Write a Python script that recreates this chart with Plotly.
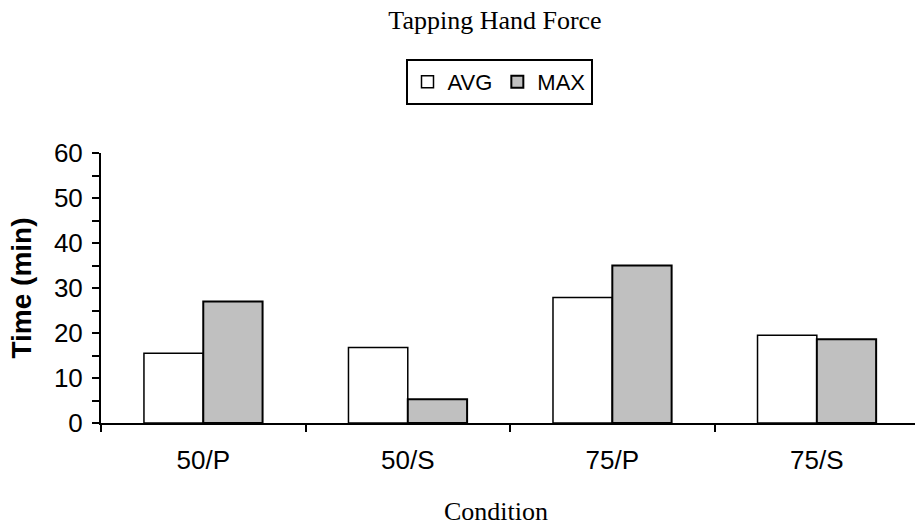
import plotly.graph_objects as go

categories = ["50/P", "50/S", "75/P", "75/S"]
avg_values = [15.5, 16.8, 27.9, 19.5]
max_values = [27.0, 5.3, 35.0, 18.6]

fig = go.Figure()
fig.add_trace(go.Bar(
    name="AVG", x=categories, y=avg_values,
    marker=dict(color="white", line=dict(color="black", width=1.5)),
))
fig.add_trace(go.Bar(
    name="MAX", x=categories, y=max_values,
    marker=dict(color="#c0c0c0", line=dict(color="black", width=2)),
))

sans = "Liberation Sans, Arial, sans-serif"
serif = "Liberation Serif, Times New Roman, serif"

W, H = 915, 526
L, R, T, B = 101, 0, 153, 103
plot_h = H - T - B
plot_w = W - L - R

fig.update_layout(
    width=W, height=H,
    margin=dict(l=L, r=R, t=T, b=B),
    paper_bgcolor="white", plot_bgcolor="white",
    barmode="group", bargap=0.42, bargroupgap=0,
    title=dict(text="Tapping Hand Force", x=495 / W, xanchor="center",
               y=1 - 20 / H, yanchor="middle",
               font=dict(family=serif, size=26, color="black")),
    legend=dict(
        orientation="h", x=(499 - L) / plot_w, xanchor="center",
        y=(H - B - 59) / plot_h, yanchor="top",
        bordercolor="black", borderwidth=2, bgcolor="white",
        font=dict(family=sans, size=22, color="black"),
        itemwidth=30, tracegroupgap=0,
    ),
    xaxis=dict(
        range=[-0.5, 3.48], showline=True, linecolor="black", linewidth=2,
        ticks="outside", tickson="boundaries", ticklen=7, tickwidth=2,
        tickcolor="black", showgrid=False, ticklabelstandoff=13,
        tickfont=dict(family=sans, size=26, color="black"),
    ),
    yaxis=dict(
        range=[0, 60], dtick=10, showline=True, linecolor="black", linewidth=2,
        ticks="outside", ticklen=7, tickwidth=2, tickcolor="black",
        showgrid=False, zeroline=False, ticklabelstandoff=4,
        minor=dict(dtick=5, ticks="outside", ticklen=7, tickwidth=2, tickcolor="black"),
        tickfont=dict(family=sans, size=26, color="black"),
        title=dict(text="<b>Time (min)</b>", standoff=14,
                   font=dict(family=sans, size=28, color="black")),
    ),
    annotations=[dict(
        text="Condition", xref="paper", yref="paper",
        x=(496 - L) / plot_w, y=-(511 - (H - B)) / plot_h,
        xanchor="center", yanchor="middle", showarrow=False,
        font=dict(family=serif, size=26, color="black"),
    )],
)

fig.write_html("out.html")
